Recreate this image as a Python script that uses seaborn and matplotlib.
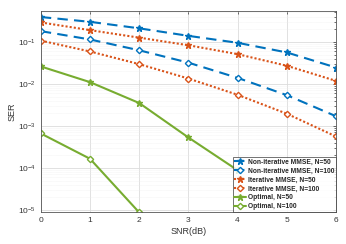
import numpy as np
import pandas as pd
import seaborn as sns
import matplotlib.pyplot as plt
from matplotlib.ticker import LogLocator, NullFormatter

snr = [0, 1, 2, 3, 4, 5, 6]
noniter_50 = [0.39, 0.30, 0.21, 0.139, 0.095, 0.056, 0.0245]
noniter_100 = [0.18, 0.114, 0.063, 0.032, 0.0139, 0.0054, 0.0017]
iter_50 = [0.29, 0.19, 0.126, 0.083, 0.051, 0.027, 0.0118]
iter_100 = [0.107, 0.059, 0.0295, 0.0134, 0.0055, 0.00195, 0.00056]
snr_opt50 = [0, 1, 2, 3, 4]
opt_50 = [0.026, 0.011, 0.0035, 0.00053, 0.000088]
snr_opt100 = [0, 1, 2]
opt_100 = [0.00066, 0.000165, 0.0000087]

labels = ["Non-iterative MMSE, N=50", "Non-iterative MMSE, N=100",
          "Iterative MMSE, N=50", "Iterative MMSE, N=100",
          "Optimal, N=50", "Optimal, N=100"]

blue, orange, green = "#0072BD", "#D95319", "#77AC30"

series = [
    (snr, noniter_50, labels[0], blue, (0, (5, 3)), "*", True),
    (snr, noniter_100, labels[1], blue, (0, (5, 3)), "D", False),
    (snr, iter_50, labels[2], orange, (0, (1, 1)), "*", True),
    (snr, iter_100, labels[3], orange, (0, (1, 1)), "D", False),
    (snr_opt50, opt_50, labels[4], green, "-", "*", True),
    (snr_opt100, opt_100, labels[5], green, "-", "D", False),
]

sns.set_theme(style="white")
plt.rcParams['font.family'] = ['Liberation Sans', 'DejaVu Sans']

fig = plt.figure(figsize=(3.46, 2.44), dpi=100)
ax = fig.add_axes([0.118, 0.131, 0.853, 0.824])

for x, y, lab, col, ls, mk, filled in series:
    df = pd.DataFrame({"SNR": x, "SER": y})
    sns.lineplot(data=df, x="SNR", y="SER", ax=ax, color=col, linestyle=ls,
                 linewidth=1.5, marker=mk, markersize=3.2 if mk == "D" else 5,
                 markerfacecolor=col if filled else "white",
                 markeredgecolor=col, markeredgewidth=1.0, label=lab)

ax.set_yscale("log")
ax.set_xlim(0, 6)
ax.set_ylim(10 ** -5.05, 10 ** -0.265)
ax.set_xticks(snr)
ax.yaxis.set_major_locator(LogLocator(base=10, numticks=10))
ax.yaxis.set_minor_locator(LogLocator(base=10, subs=np.arange(2, 10), numticks=20))
ax.yaxis.set_minor_formatter(NullFormatter())

ax.grid(True, which="major", color="#dcdcdc", linewidth=0.6)
ax.grid(True, which="minor", color="#ececec", linewidth=0.4, linestyle=(0, (1, 1)))
for s in ax.spines.values():
    s.set_color("#555555")
    s.set_linewidth(0.6)
ax.tick_params(axis="both", which="both", direction="in", labelsize=6,
               colors="#333333", length=2.5, width=0.5, top=True, right=True)
ax.tick_params(axis="y", which="minor", length=1.5)

ax.set_xlabel("SNR(dB)", fontsize=6.5, color="#333333", labelpad=2)
ax.set_ylabel("SER", fontsize=6.5, color="#333333", labelpad=1)

leg = ax.legend(loc="lower right", fontsize=4.8, frameon=True, fancybox=False,
                borderaxespad=0, handlelength=1.8, handletextpad=0.2,
                labelspacing=0.3, borderpad=0.25)
leg.get_frame().set_edgecolor("#333333")
leg.get_frame().set_linewidth(0.6)
for t in leg.get_texts():
    t.set_fontweight("bold")

fig.savefig("out.png", dpi=100)
